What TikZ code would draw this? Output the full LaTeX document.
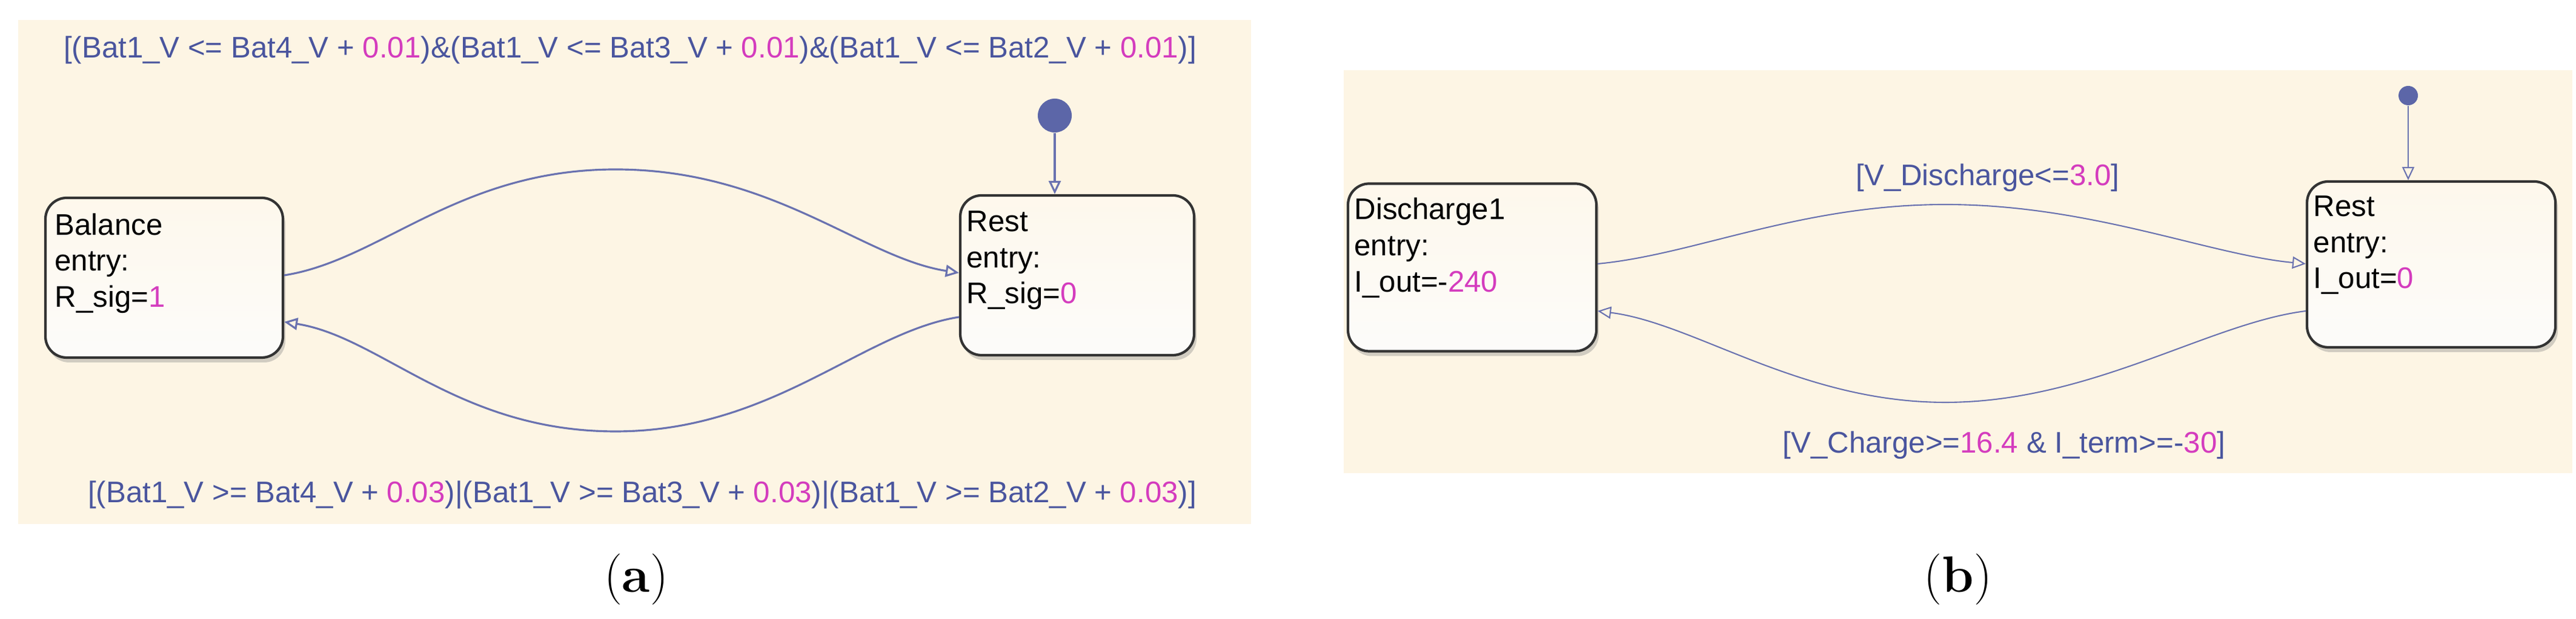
\documentclass[tikz,border=0pt]{standalone}
\usepackage{fontspec}
\setsansfont{Liberation Sans}
\usetikzlibrary{positioning,arrows.meta,shadows}
\definecolor{chartbg}{HTML}{FDF5E4}
\definecolor{trans}{HTML}{6A72B0}
\definecolor{guard}{HTML}{4A559E}
\definecolor{numc}{HTML}{D43CBE}
\newcommand{\nv}[1]{\textcolor{numc}{#1}}
\tikzset{
  state/.style={draw=black!80, line width=1.2pt, rounded corners=0.35cm, top color=white!30!chartbg, bottom color=chartbg!90!black!10, drop shadow={shadow xshift=0.04cm, shadow yshift=-0.08cm, opacity=0.35}},
  stxt/.style={font=\sffamily\fontsize{14}{17}\selectfont, align=left, inner sep=0pt},
  cond/.style={font=\sffamily\fontsize{14}{17}\selectfont, text=guard},
  tr/.style={draw=trans, line width=0.9pt, -{Triangle[open, length=0.22cm, width=0.2cm]}},
}
\begin{document}
\begin{tikzpicture}
\useasboundingbox (0,0) rectangle (42.52,10.23);
% (a)
\fill[chartbg] (0.30,1.57) rectangle (20.65,9.90);
\node[state, minimum width=3.92cm, minimum height=2.64cm] (bal) at (2.71,5.64) {};
\node[state, minimum width=3.86cm, minimum height=2.64cm] (resta) at (17.78,5.68) {};
\node[stxt, anchor=north west] (baltxt) at ([xshift=0.17cm,yshift=-0.27cm]bal.north west) {Balance\\entry:\\R\_sig=\nv{1}};
\node[stxt, anchor=north west] (restatxt) at ([xshift=0.12cm,yshift=-0.27cm]resta.north west) {Rest\\entry:\\R\_sig=\nv{0}};
\node[cond] (conda) at (10.40,9.40) {[(Bat1\_V <= Bat4\_V + \nv{0.01})\&(Bat1\_V <= Bat3\_V + \nv{0.01})\&(Bat1\_V <= Bat2\_V + \nv{0.01})]};
\node[cond] (condb) at (10.60,2.05) {[(Bat1\_V >= Bat4\_V + \nv{0.03})|(Bat1\_V >= Bat3\_V + \nv{0.03})|(Bat1\_V >= Bat2\_V + \nv{0.03})]};
\node[circle, fill=guard!90, minimum size=0.56cm, inner sep=0pt] (inita) at (17.41,8.32) {};
\coordinate (topa) at (10.16,7.43);
\coordinate (bota) at (10.16,3.10);
\draw[tr] (inita) -- (inita |- resta.north);
\draw[tr] ([yshift=0.04cm]bal.east) .. controls +(1.6,0.25) and +(-2.6,0) .. (topa) .. controls +(2.6,0) and +(-1.6,0.25) .. ([yshift=0.04cm]resta.west);
\draw[tr] ([yshift=-0.69cm]resta.west) .. controls +(-1.6,-0.25) and +(2.6,0) .. (bota) .. controls +(-2.6,0) and +(1.6,-0.25) .. ([yshift=-0.73cm]bal.east);
\node (capa) at (10.50,0.66) {\fontsize{24}{28}\selectfont(\textbf{a})};
% (b)
\fill[chartbg] (22.18,2.41) rectangle (42.46,9.07);
\node[state, minimum width=4.10cm, minimum height=2.77cm] (dis) at (24.30,5.81) {};
\node[state, minimum width=4.10cm, minimum height=2.74cm] (restb) at (40.13,5.86) {};
\node[stxt, anchor=north west] (distxt) at ([xshift=0.12cm,yshift=-0.25cm]dis.north west) {Discharge1\\entry:\\I\_out=-\nv{240}};
\node[stxt, anchor=north west] (restbtxt) at ([xshift=0.12cm,yshift=-0.25cm]restb.north west) {Rest\\entry:\\I\_out=\nv{0}};
\node[cond] (condc) at (32.81,7.29) {[V\_Discharge<=\nv{3.0}]};
\node[cond] (condd) at (33.08,2.87) {[V\_Charge>=\nv{16.4} \& I\_term>=-\nv{30}]};
\node[circle, fill=guard!90, minimum size=0.32cm, inner sep=0pt] (initb) at (39.75,8.65) {};
\coordinate (topb) at (32.11,6.85);
\coordinate (botb) at (32.11,3.58);
\draw[tr, line width=0.6pt] (initb) -- (initb |- restb.north);
\draw[tr, line width=0.6pt] ([yshift=0.06cm]dis.east) .. controls +(1.6,0.15) and +(-2.4,0) .. (topb) .. controls +(2.4,0) and +(-1.6,0.15) .. ([yshift=0.01cm]restb.west);
\draw[tr, line width=0.6pt] ([yshift=-0.77cm]restb.west) .. controls +(-1.6,-0.2) and +(2.4,0) .. (botb) .. controls +(-2.4,0) and +(1.6,-0.2) .. ([yshift=-0.72cm]dis.east);
\node (capb) at (32.32,0.66) {\fontsize{24}{28}\selectfont(\textbf{b})};
\end{tikzpicture}
\end{document}
